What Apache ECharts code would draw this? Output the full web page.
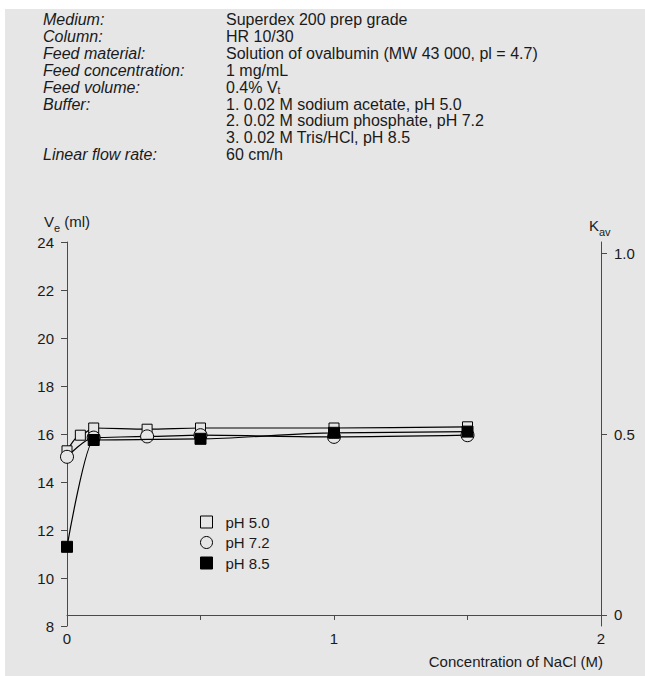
<!DOCTYPE html>
<html>
<head>
<meta charset="utf-8">
<script src="https://cdn.jsdelivr.net/npm/echarts@6/dist/echarts.min.js"></script>
<style>
  html, body { margin: 0; padding: 0; background: #ffffff; }
  #panel { position: absolute; left: 5px; top: 9px; width: 640px; height: 667px; background: #e6e6e6; }
  #chart { position: absolute; left: 0; top: 0; width: 645px; height: 676px; }
</style>
</head>
<body>
<div id="panel"></div>
<div id="chart"></div>
<script>
// Elution volume of ovalbumin vs. NaCl concentration at three pH values
const concPH50 = [0, 0.05, 0.1, 0.3, 0.5, 1.0, 1.5];
const vePH50   = [15.3, 15.95, 16.25, 16.2, 16.25, 16.25, 16.3];

const concPH72 = [0, 0.1, 0.3, 0.5, 1.0, 1.5];
const vePH72   = [15.05, 15.85, 15.9, 15.95, 15.88, 15.95];

const concPH85 = [0, 0.1, 0.5, 1.0, 1.5];
const vePH85   = [11.3, 15.75, 15.8, 16.05, 16.1];

const seriesNames = ['pH 5.0', 'pH 7.2', 'pH 8.5'];

const veTicks  = [8, 10, 12, 14, 16, 18, 20, 22, 24];
const kavTicks = [0, 0.5, 1.0];
const concTicks = [0, 1, 2];

// V0 and Vt of the column: Kav = (Ve - V0) / (Vt - V0)
const V0 = 8.46, VT = 23.54;

const headerLabels = ['Medium:', 'Column:', 'Feed material:', 'Feed concentration:',
  'Feed volume:', 'Buffer:', '', '', 'Linear flow rate:'];
const headerValues = ['Superdex 200 prep grade', 'HR 10/30',
  'Solution of ovalbumin (MW 43 000, pl = 4.7)', '1 mg/mL', '{n|0.4% V}{s|t}',
  '1. 0.02 M sodium acetate, pH 5.0', '2. 0.02 M sodium phosphate, pH 7.2',
  '3. 0.02 M Tris/HCl, pH 8.5', '60 cm/h'];

const BG = '#e6e6e6';
const FONT = '"Liberation Sans", Arial, sans-serif';
const AXIS_COLOR = '#4a4a4a';
const TEXT_COLOR = '#1a1a1a';

const pairs = (xs, ys) => xs.map((x, i) => [x, ys[i]]);

const chart = echarts.init(document.getElementById('chart'), null, { renderer: 'svg' });

const header = [];
const lineStep = 16.9, firstY = 20, HFS = 16;
headerLabels.forEach((t, i) => {
  if (!t) return;
  header.push({
    type: 'text', left: 43, top: firstY + i * lineStep - 8.5,
    style: { text: t, font: 'italic ' + HFS + 'px ' + FONT, fill: TEXT_COLOR, lineHeight: 16 }
  });
});
headerValues.forEach((t, i) => {
  header.push({
    type: 'text', left: 226, top: firstY + i * lineStep - 8.5,
    style: {
      text: t, font: HFS + 'px ' + FONT, fill: TEXT_COLOR, lineHeight: 16,
      rich: {
        n: { fontSize: HFS, fontFamily: FONT, fill: TEXT_COLOR, lineHeight: 16, verticalAlign: 'bottom' },
        s: { fontSize: 10, fontFamily: FONT, fill: TEXT_COLOR, lineHeight: 16, verticalAlign: 'bottom' }
      }
    }
  });
});

const axisNames = [
  { type: 'text', left: 44, top: 214,
    style: { text: '{n|V}{s|e}{n| (ml)}', fill: TEXT_COLOR,
      rich: {
        n: { fontSize: 15, fontFamily: FONT, fill: TEXT_COLOR, lineHeight: 20, verticalAlign: 'bottom' },
        s: { fontSize: 11, fontFamily: FONT, fill: TEXT_COLOR, lineHeight: 20, verticalAlign: 'bottom', padding: [0, 0, -4, 0] }
      } } },
  { type: 'text', left: 589, top: 218,
    style: { text: '{n|K}{s|av}', fill: TEXT_COLOR,
      rich: {
        n: { fontSize: 15, fontFamily: FONT, fill: TEXT_COLOR, lineHeight: 20, verticalAlign: 'bottom' },
        s: { fontSize: 11, fontFamily: FONT, fill: TEXT_COLOR, lineHeight: 20, verticalAlign: 'bottom', padding: [0, 0, -4, 0] }
      } } },
  { type: 'text', right: 42, top: 654,
    style: { text: 'Concentration of NaCl (M)', font: '15px ' + FONT, fill: TEXT_COLOR } }
];

const symbolStyles = [
  { symbol: 'rect', symbolSize: 10, itemStyle: { color: BG, borderColor: '#000', borderWidth: 1 } },
  { symbol: 'circle', symbolSize: 13, itemStyle: { color: BG, borderColor: '#000', borderWidth: 1 } },
  { symbol: 'rect', symbolSize: 11, itemStyle: { color: '#000', borderColor: '#000', borderWidth: 1 } }
];
const seriesData = [pairs(concPH50, vePH50), pairs(concPH72, vePH72), pairs(concPH85, vePH85)];

const series = seriesNames.map((name, i) => ({
  name, type: 'line', xAxisIndex: 0, yAxisIndex: 0,
  data: seriesData[i],
  symbol: symbolStyles[i].symbol,
  symbolSize: symbolStyles[i].symbolSize,
  itemStyle: symbolStyles[i].itemStyle,
  lineStyle: { color: '#000', width: 1.2 },
  smooth: 0.3, smoothMonotone: 'x',
  showAllSymbol: true,
  z: 2 + i,
  animation: false
}));

const kavLabel = v => (v === 0 ? '0' : v.toFixed(1));

chart.setOption({
  backgroundColor: 'transparent',
  animation: false,
  textStyle: { fontFamily: FONT },
  graphic: header.concat(axisNames),
  legend: {
    orient: 'vertical', left: 200, top: 513.5, padding: 0,
    itemWidth: 12, itemHeight: 12, itemGap: 3.5,
    selectedMode: false,
    textStyle: { fontSize: 15, lineHeight: 17, fontFamily: FONT, color: TEXT_COLOR, padding: [0, 0, 0, 8] },
    data: seriesNames.map((name, i) => ({
      name, icon: symbolStyles[i].symbol, itemStyle: symbolStyles[i].itemStyle
    }))
  },
  grid: { left: 67, top: 242, width: 534, height: 384, containLabel: false },
  xAxis: {
    type: 'value', min: 0, max: 2, interval: 1,
    axisLine: { show: true, lineStyle: { color: AXIS_COLOR, width: 1 } },
    axisTick: { show: true, inside: false, length: 5, lineStyle: { color: AXIS_COLOR } },
    minorTick: { show: true, splitNumber: 2, length: 5, lineStyle: { color: AXIS_COLOR } },
    axisLabel: { margin: 5, fontSize: 15, color: TEXT_COLOR, customValues: concTicks },
    splitLine: { show: false }
  },
  yAxis: [
    {
      type: 'value', min: 8, max: 24, interval: 2,
      axisLine: { show: true, lineStyle: { color: AXIS_COLOR, width: 1 } },
      axisTick: { show: true, inside: false, length: 6, lineStyle: { color: AXIS_COLOR } },
      axisLabel: { margin: 13, fontSize: 15, color: TEXT_COLOR, customValues: veTicks },
      splitLine: { show: false }
    },
    {
      type: 'value', position: 'right',
      min: (8 - V0) / (VT - V0), max: (24 - V0) / (VT - V0),
      axisLine: { show: true, onZero: false, lineStyle: { color: AXIS_COLOR, width: 1 } },
      axisTick: { show: true, inside: false, length: 6, customValues: kavTicks, lineStyle: { color: AXIS_COLOR } },
      axisLabel: { margin: 13, fontSize: 15, color: TEXT_COLOR, customValues: kavTicks, formatter: kavLabel },
      splitLine: { show: false }
    }
  ],
  series
});
</script>
</body>
</html>
